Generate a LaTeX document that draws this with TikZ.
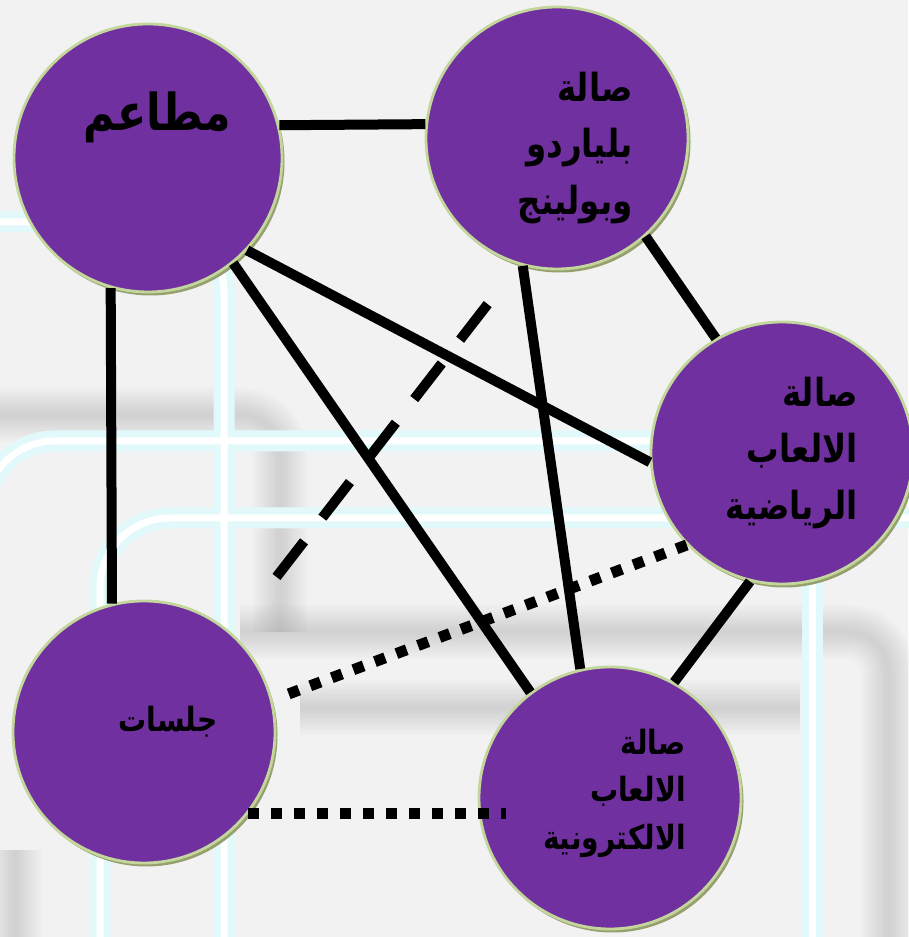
\documentclass[tikz,border=0pt]{standalone}
\usepackage{fontspec}
\newfontfamily\arabicfont[Script=Arabic, FakeStretch=0.84]{DejaVu Sans}
\TeXXeTstate=1
\usetikzlibrary{shadows}

\definecolor{hallpurple}{RGB}{112,48,160}
\definecolor{hallrim}{RGB}{195,214,155}
\definecolor{hallshade}{RGB}{150,160,110}
\definecolor{pipecyan}{RGB}{226,249,251}
\definecolor{wallgray}{RGB}{242,242,242}

\newcommand{\rtl}[1]{\beginR#1\endR}

\tikzset{
  hall/.style={circle, draw=hallrim, line width=1.6pt, fill=hallpurple, minimum size=5.24cm, inner sep=0pt,
    drop shadow={shadow xshift=0.05cm, shadow yshift=-0.07cm, fill=hallshade, opacity=1}},
  hallname/.style={align=right, inner sep=0pt, font=\arabicfont\bfseries\fontsize{22}{32}\selectfont},
  smallname/.style={hallname, font=\arabicfont\bfseries\fontsize{19}{27}\selectfont},
  link/.style={line width=0.2cm},
  maybe/.style={line width=0.2cm, dash pattern=on 0.9cm off 0.6cm},
  weak/.style={line width=0.22cm, dash pattern=on 0.22cm off 0.24cm},
  pipe/.style={rounded corners=1.4cm},
  haze/.style={draw=gray, rounded corners=0.8cm, opacity=0.022},
}

\begin{document}
\begin{tikzpicture}
	% wall behind the plan
	\fill[wallgray] (0,0) rectangle (18.16,18.74);
	\useasboundingbox (0,0) rectangle (18.16,18.74);
	\foreach \w in {0.1,0.2,...,1.1}{
		\draw[haze, line width=\w cm] (-0.5,10.44) -- (5.6,10.44) -- (5.6,6.1);
		\draw[haze, line width=\w cm] (4.8,6.1) -- (17.76,6.1) -- (17.76,-0.5);
		\draw[haze, line width=\w cm] (6.0,4.58) -- (16.0,4.58);
		\draw[haze, line width=\w cm] (0.3,1.74) -- (0.3,-0.5);
	}
	\foreach \c/\w in {pipecyan/0.42, white/0.14}{
		\draw[pipe, draw=\c, line width=\w cm] (-0.4,14.3) -- (4.48,14.3) -- (4.48,-0.5);
		\draw[pipe, draw=\c, line width=\w cm] (-0.3,7.0) -- (-0.3,9.92) -- (18.6,9.92);
		\draw[pipe, draw=\c, line width=\w cm] (2.0,-0.5) -- (2.0,8.38) -- (18.6,8.38);
		\draw[draw=\c, line width=\w cm] (16.24,8.38) -- (16.24,-0.5);
	}

	% the five halls
	\node[hall, minimum size=5.36cm] (rest) at (2.96,15.58) {};
	\node[hall] (bill) at (11.14,15.98) {};
	\node[hall] (sport) at (15.64,9.68) {};
	\node[hall] (jal) at (2.88,4.10) {};
	\node[hall] (elec) at (12.20,2.78) {};

	\node[hallname, font=\arabicfont\bfseries\fontsize{29}{34}\selectfont] (rest-name) at ([xshift=0.18cm, yshift=0.82cm]rest.center) {\rtl{مطاعم}};
	\node[hallname, anchor=east] (bill-name) at ([xshift=1.52cm, yshift=-0.2cm]bill.center) {\rtl{صالة}\\ \rtl{بلياردو}\\ \rtl{وبولينج}};
	\node[hallname, anchor=east] (sport-name) at ([xshift=1.52cm]sport.center) {\rtl{صالة}\\ \rtl{الالعاب}\\ \rtl{الرياضية}};
	\node[smallname, anchor=east] (jal-name) at ([xshift=1.48cm, yshift=0.2cm]jal.center) {\rtl{جلسات}};
	\node[smallname, anchor=east] (elec-name) at ([xshift=1.52cm, yshift=0.1cm]elec.center) {\rtl{صالة}\\ \rtl{الالعاب}\\ \rtl{الالكترونية}};

	% links between the halls
	\draw[link] (rest.14) -- (bill.174);
	\draw[link] (rest.254) -- (jal.104);
	\draw[link] (rest.317) -- (sport.184);
	\draw[link] (rest.309) -- (elec.127);
	\draw[link] (bill.312) -- (sport.120);
	\draw[link] (bill.255) -- (elec.103);
	\draw[link] (sport.256) -- (elec.61);
	\draw[maybe, shorten <=1cm, shorten >=0.87cm] (bill.253) -- (jal.48);
	\draw[weak, shorten >=0.34cm] (sport.224) -- (jal.14);
	\draw[weak] (jal.322) -- ([xshift=0.56cm]jal.322 -| elec.west);
\end{tikzpicture}
\end{document}
